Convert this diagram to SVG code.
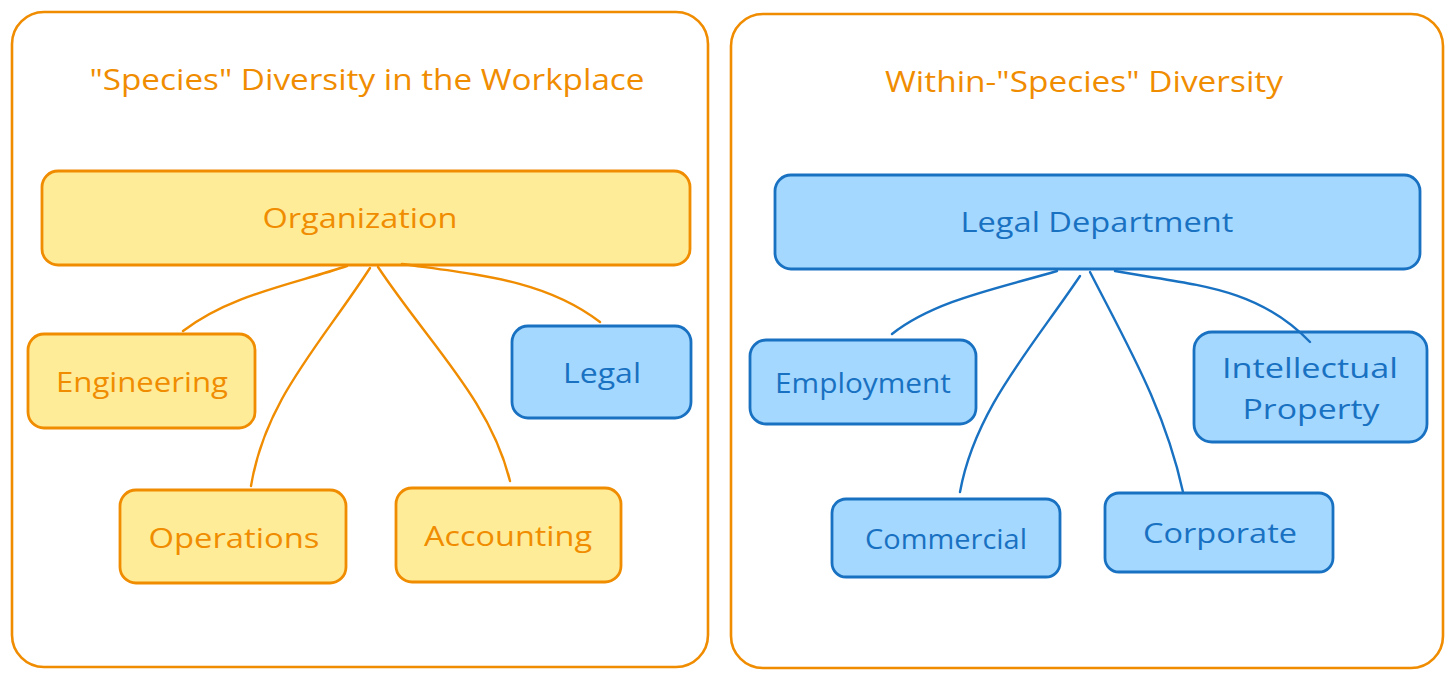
<svg xmlns="http://www.w3.org/2000/svg" width="1456" height="681" viewBox="0 0 1456 681">
<style>
.frame{fill:#fff;stroke:#f08c00;stroke-width:2.6}
.y{fill:#ffec99;stroke:#f08c00;stroke-width:2.8}
.b{fill:#a5d8ff;stroke:#1971c2;stroke-width:2.8}
text{font-family:"Open Sans","Liberation Sans",sans-serif;text-anchor:middle;dominant-baseline:central}
.t{fill:#f08c00;font-size:29px}
.ty{fill:#f08c00;font-size:27px}
.tb{fill:#1971c2;font-size:27px}
.co{fill:none;stroke:#f08c00;stroke-width:2.4;stroke-linecap:round}
.cb{fill:none;stroke:#1971c2;stroke-width:2.4;stroke-linecap:round}
</style>
<rect width="1456" height="681" fill="#fff"/>
<g id="frame-left"><rect class="frame" x="12" y="12" width="696" height="655" rx="32"/>
<text class="t" x="367" y="78" textLength="555" lengthAdjust="spacingAndGlyphs">"Species" Diversity in the Workplace</text></g>
<g id="frame-right"><rect class="frame" x="731" y="14" width="712" height="654" rx="32"/>
<text class="t" x="1084" y="80" textLength="398" lengthAdjust="spacingAndGlyphs">Within-"Species" Diversity</text></g>
<g id="organization"><rect class="y" x="42" y="171" width="648" height="94" rx="16"/><text class="ty" x="360" y="217" textLength="195" lengthAdjust="spacingAndGlyphs">Organization</text></g>
<g id="engineering"><rect class="y" x="28" y="334" width="227" height="94" rx="16"/><text class="ty" x="142" y="381" textLength="172" lengthAdjust="spacingAndGlyphs">Engineering</text></g>
<g id="legal"><rect class="b" x="512" y="326" width="179" height="92" rx="16"/><text class="tb" x="602" y="372" textLength="78" lengthAdjust="spacingAndGlyphs">Legal</text></g>
<g id="operations"><rect class="y" x="120" y="490" width="226" height="93" rx="16"/><text class="ty" x="234" y="537" textLength="171" lengthAdjust="spacingAndGlyphs">Operations</text></g>
<g id="accounting"><rect class="y" x="396" y="488" width="225" height="94" rx="16"/><text class="ty" x="508" y="535" textLength="168" lengthAdjust="spacingAndGlyphs">Accounting</text></g>
<g id="legal-department"><rect class="b" x="775" y="175" width="645" height="94" rx="16"/><text class="tb" x="1097" y="221" textLength="273" lengthAdjust="spacingAndGlyphs">Legal Department</text></g>
<g id="employment"><rect class="b" x="750" y="340" width="226" height="84" rx="16"/><text class="tb" x="863" y="382" textLength="176" lengthAdjust="spacingAndGlyphs">Employment</text></g>
<g id="intellectual-property"><rect class="b" x="1194" y="332" width="233" height="110" rx="18"/><text class="tb" x="1310" y="367" textLength="176" lengthAdjust="spacingAndGlyphs">Intellectual</text><text class="tb" x="1311" y="408" textLength="137" lengthAdjust="spacingAndGlyphs">Property</text></g>
<g id="commercial"><rect class="b" x="832" y="499" width="228" height="78" rx="14"/><text class="tb" x="946" y="538" textLength="162" lengthAdjust="spacingAndGlyphs">Commercial</text></g>
<g id="corporate"><rect class="b" x="1105" y="493" width="228" height="79" rx="14"/><text class="tb" x="1220" y="532" textLength="154" lengthAdjust="spacingAndGlyphs">Corporate</text></g>
<g id="connectors">
<path class="co" d="M347,266 C290,285 230,295 183,331"/>
<path class="co" d="M370,268 C320,345 265,400 251,486"/>
<path class="co" d="M378,267 C430,345 490,400 510,481"/>
<path class="co" d="M402,264 C480,275 545,280 600,322"/>
<path class="cb" d="M1057,271 C1000,288 935,300 892,334"/>
<path class="cb" d="M1080,276 C1030,350 975,410 960,492"/>
<path class="cb" d="M1090,272 C1130,350 1165,410 1183,492"/>
<path class="cb" d="M1115,271 C1190,285 1255,285 1310,342"/>
</g>
</svg>
